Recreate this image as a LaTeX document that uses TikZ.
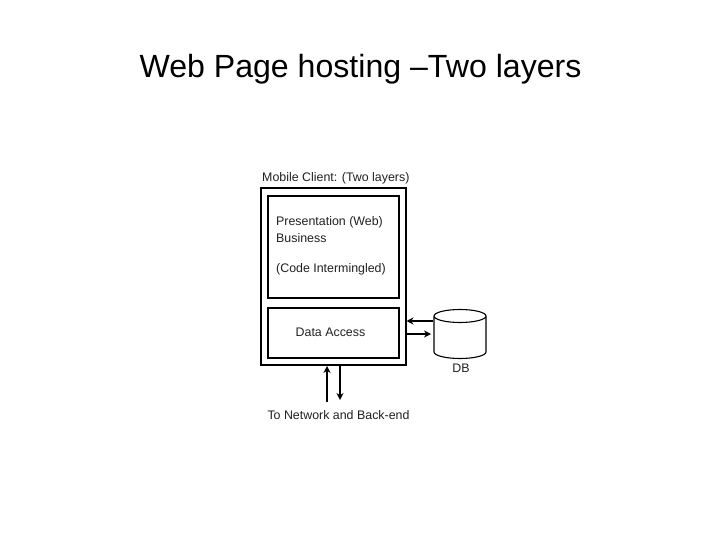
\documentclass[tikz,border=0pt]{standalone}
\usepackage{fontspec}
\setmainfont{Liberation Sans}
\usetikzlibrary{arrows.meta}
\definecolor{ink}{gray}{0.13}
\tikzset{
  boxthick/.style={draw=black,line width=2pt,fill=white,inner sep=0pt,anchor=north west},
  lbl/.style={inner sep=0pt,text=ink,font=\fontsize{12.4}{15.8}\selectfont},
  conn/.style={draw=black,line width=1.5pt,-{Stealth[length=7pt,width=7pt]}},
  dbline/.style={draw=black,line width=1.1pt}
}
\begin{document}
\begin{tikzpicture}[x=1pt,y=-1pt]
\useasboundingbox[fill=white] (0,0) rectangle (720,540);
\node[inner sep=0pt,font=\fontsize{32.1}{36}\selectfont,text=black] (title) at (360.5,69) {Web Page hosting –Two layers};
\node[lbl,anchor=west] (clientlabel) at (262,178) {Mobile Client: (Two layers)};
\node[boxthick,minimum width=145pt,minimum height=177pt] (outer) at (260,187) {};
\node[boxthick,minimum width=131pt,minimum height=102pt] (pres) at (267,195) {};
\node[boxthick,minimum width=131pt,minimum height=50pt] (data) at (267,307) {};
\node[lbl,anchor=west] (t1) at (276,222.5) {Presentation (Web)};
\node[lbl,anchor=west] (t2) at (276,238.5) {Business};
\node[lbl,anchor=west] (t3) at (276,269.5) {(Code Intermingled)};
\node[lbl] (t4) at (330.5,332) {Data Access};
\coordinate (dbw) at (434,316);
\coordinate (dbe) at (486,316);
\path[dbline,fill=white] (dbw) arc[start angle=180,end angle=360,x radius=26,y radius=6.5]
  (dbe) arc[start angle=0,end angle=180,x radius=26,y radius=6.5]
  (dbw) -- ++(0,36) arc[start angle=180,end angle=360,x radius=26,y radius=-6.5] -- (dbe);
\node[lbl] (dblabel) at (461,368.5) {DB};
\node[lbl] (net) at (338.5,415.5) {To Network and Back-end};
\coordinate (a1) at (433,321);
\coordinate (a2) at (406.5,321);
\coordinate (b1) at (406,334);
\coordinate (b2) at (431,334);
\coordinate (c1) at (327,402);
\coordinate (c2) at (327,366);
\coordinate (d1) at (340,365);
\coordinate (d2) at (340,400);
\draw[conn] (a1) -- (a2);
\draw[conn] (b1) -- (b2);
\draw[conn] (c1) -- (c2);
\draw[conn] (d1) -- (d2);
\end{tikzpicture}
\end{document}
